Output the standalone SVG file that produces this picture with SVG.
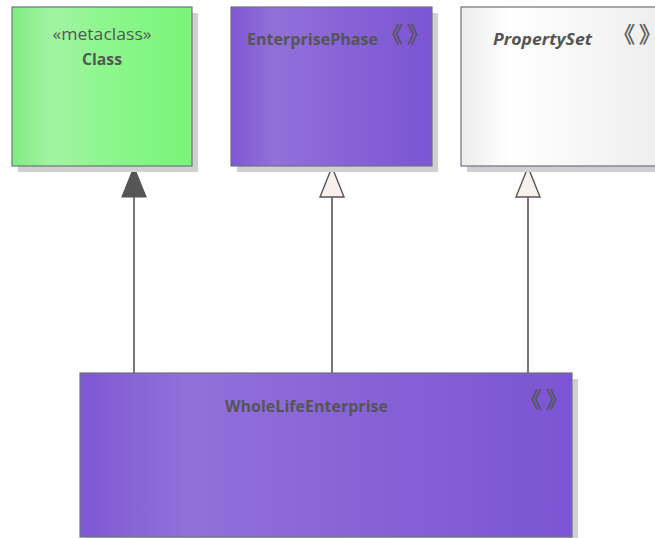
<svg xmlns="http://www.w3.org/2000/svg" width="655" height="538" viewBox="0 0 655 538">
<style>
.box{stroke:#6b7380;stroke-width:1.2}
.shadow{fill:#d0d0d0}
.t{font-family:"Open Sans","Liberation Sans",sans-serif;font-size:16.5px;fill:#555555}
.b{font-weight:bold}
.st{font-family:"Noto Sans CJK SC","Noto Sans CJK JP",sans-serif;font-size:22px;letter-spacing:4px;fill:#555555;stroke:#555555;stroke-width:0.4}
.conn{stroke:#555555;stroke-width:1.6;fill:none}
</style>
<defs>
<linearGradient id="gGreen" x1="0" y1="0" x2="1" y2="0">
<stop offset="0" stop-color="#80ec80"/>
<stop offset="0.22" stop-color="#a2f4a2"/>
<stop offset="0.5" stop-color="#8ef68e"/>
<stop offset="1" stop-color="#78f478"/>
</linearGradient>
<linearGradient id="gPurple" x1="0" y1="0" x2="1" y2="0">
<stop offset="0" stop-color="#7e57d4"/>
<stop offset="0.22" stop-color="#9271d9"/>
<stop offset="0.5" stop-color="#8a65d7"/>
<stop offset="1" stop-color="#7b55d3"/>
</linearGradient>
<linearGradient id="gWhite" x1="0" y1="0" x2="1" y2="0">
<stop offset="0" stop-color="#ececec"/>
<stop offset="0.25" stop-color="#ffffff"/>
<stop offset="1" stop-color="#eeeeee"/>
</linearGradient>
</defs>

<g id="connectors">
<line class="conn" x1="134" y1="197" x2="134" y2="373"/>
<polygon points="134,167 122,197 146,197" fill="#555555" stroke="#555555" stroke-width="1.2"/>
<line class="conn" x1="332" y1="197" x2="332" y2="373"/>
<polygon points="332,167 320,197 344,197" fill="#f8f0ec" stroke="#555555" stroke-width="1.4"/>
<line class="conn" x1="528" y1="197" x2="528" y2="373"/>
<polygon points="528,167 516,197 540,197" fill="#f8f0ec" stroke="#555555" stroke-width="1.4"/>
</g>

<g id="Class">
<rect class="shadow" x="18" y="13" width="180" height="159"/>
<rect class="box" x="12" y="7" width="180" height="159" fill="url(#gGreen)"/>
<text class="t" x="102" y="40" text-anchor="middle" textLength="99" lengthAdjust="spacingAndGlyphs">«metaclass»</text>
<text class="t b" x="102" y="65" text-anchor="middle" textLength="40" lengthAdjust="spacingAndGlyphs">Class</text>
</g>

<g id="EnterprisePhase">
<rect class="shadow" x="237" y="13" width="201" height="159"/>
<rect class="box" x="231" y="7" width="201" height="159" fill="url(#gPurple)"/>
<text class="t b" x="247" y="45" textLength="131" lengthAdjust="spacingAndGlyphs">EnterprisePhase</text>
<text class="st" x="381" y="42">《》</text>
</g>

<g id="PropertySet">
<rect class="shadow" x="467" y="13" width="200" height="159"/>
<rect class="box" x="461" y="7" width="200" height="159" fill="url(#gWhite)"/>
<text class="t b" x="493" y="45" font-style="italic" textLength="99" lengthAdjust="spacingAndGlyphs">PropertySet</text>
<text class="st" x="613" y="42">《》</text>
</g>

<g id="WholeLifeEnterprise">
<rect class="shadow" x="86" y="379" width="492" height="164"/>
<rect class="box" x="80" y="373" width="492" height="164" fill="url(#gPurple)"/>
<text class="t b" x="225" y="412" textLength="163" lengthAdjust="spacingAndGlyphs">WholeLifeEnterprise</text>
<text class="st" x="520" y="407">《》</text>
</g>
</svg>
